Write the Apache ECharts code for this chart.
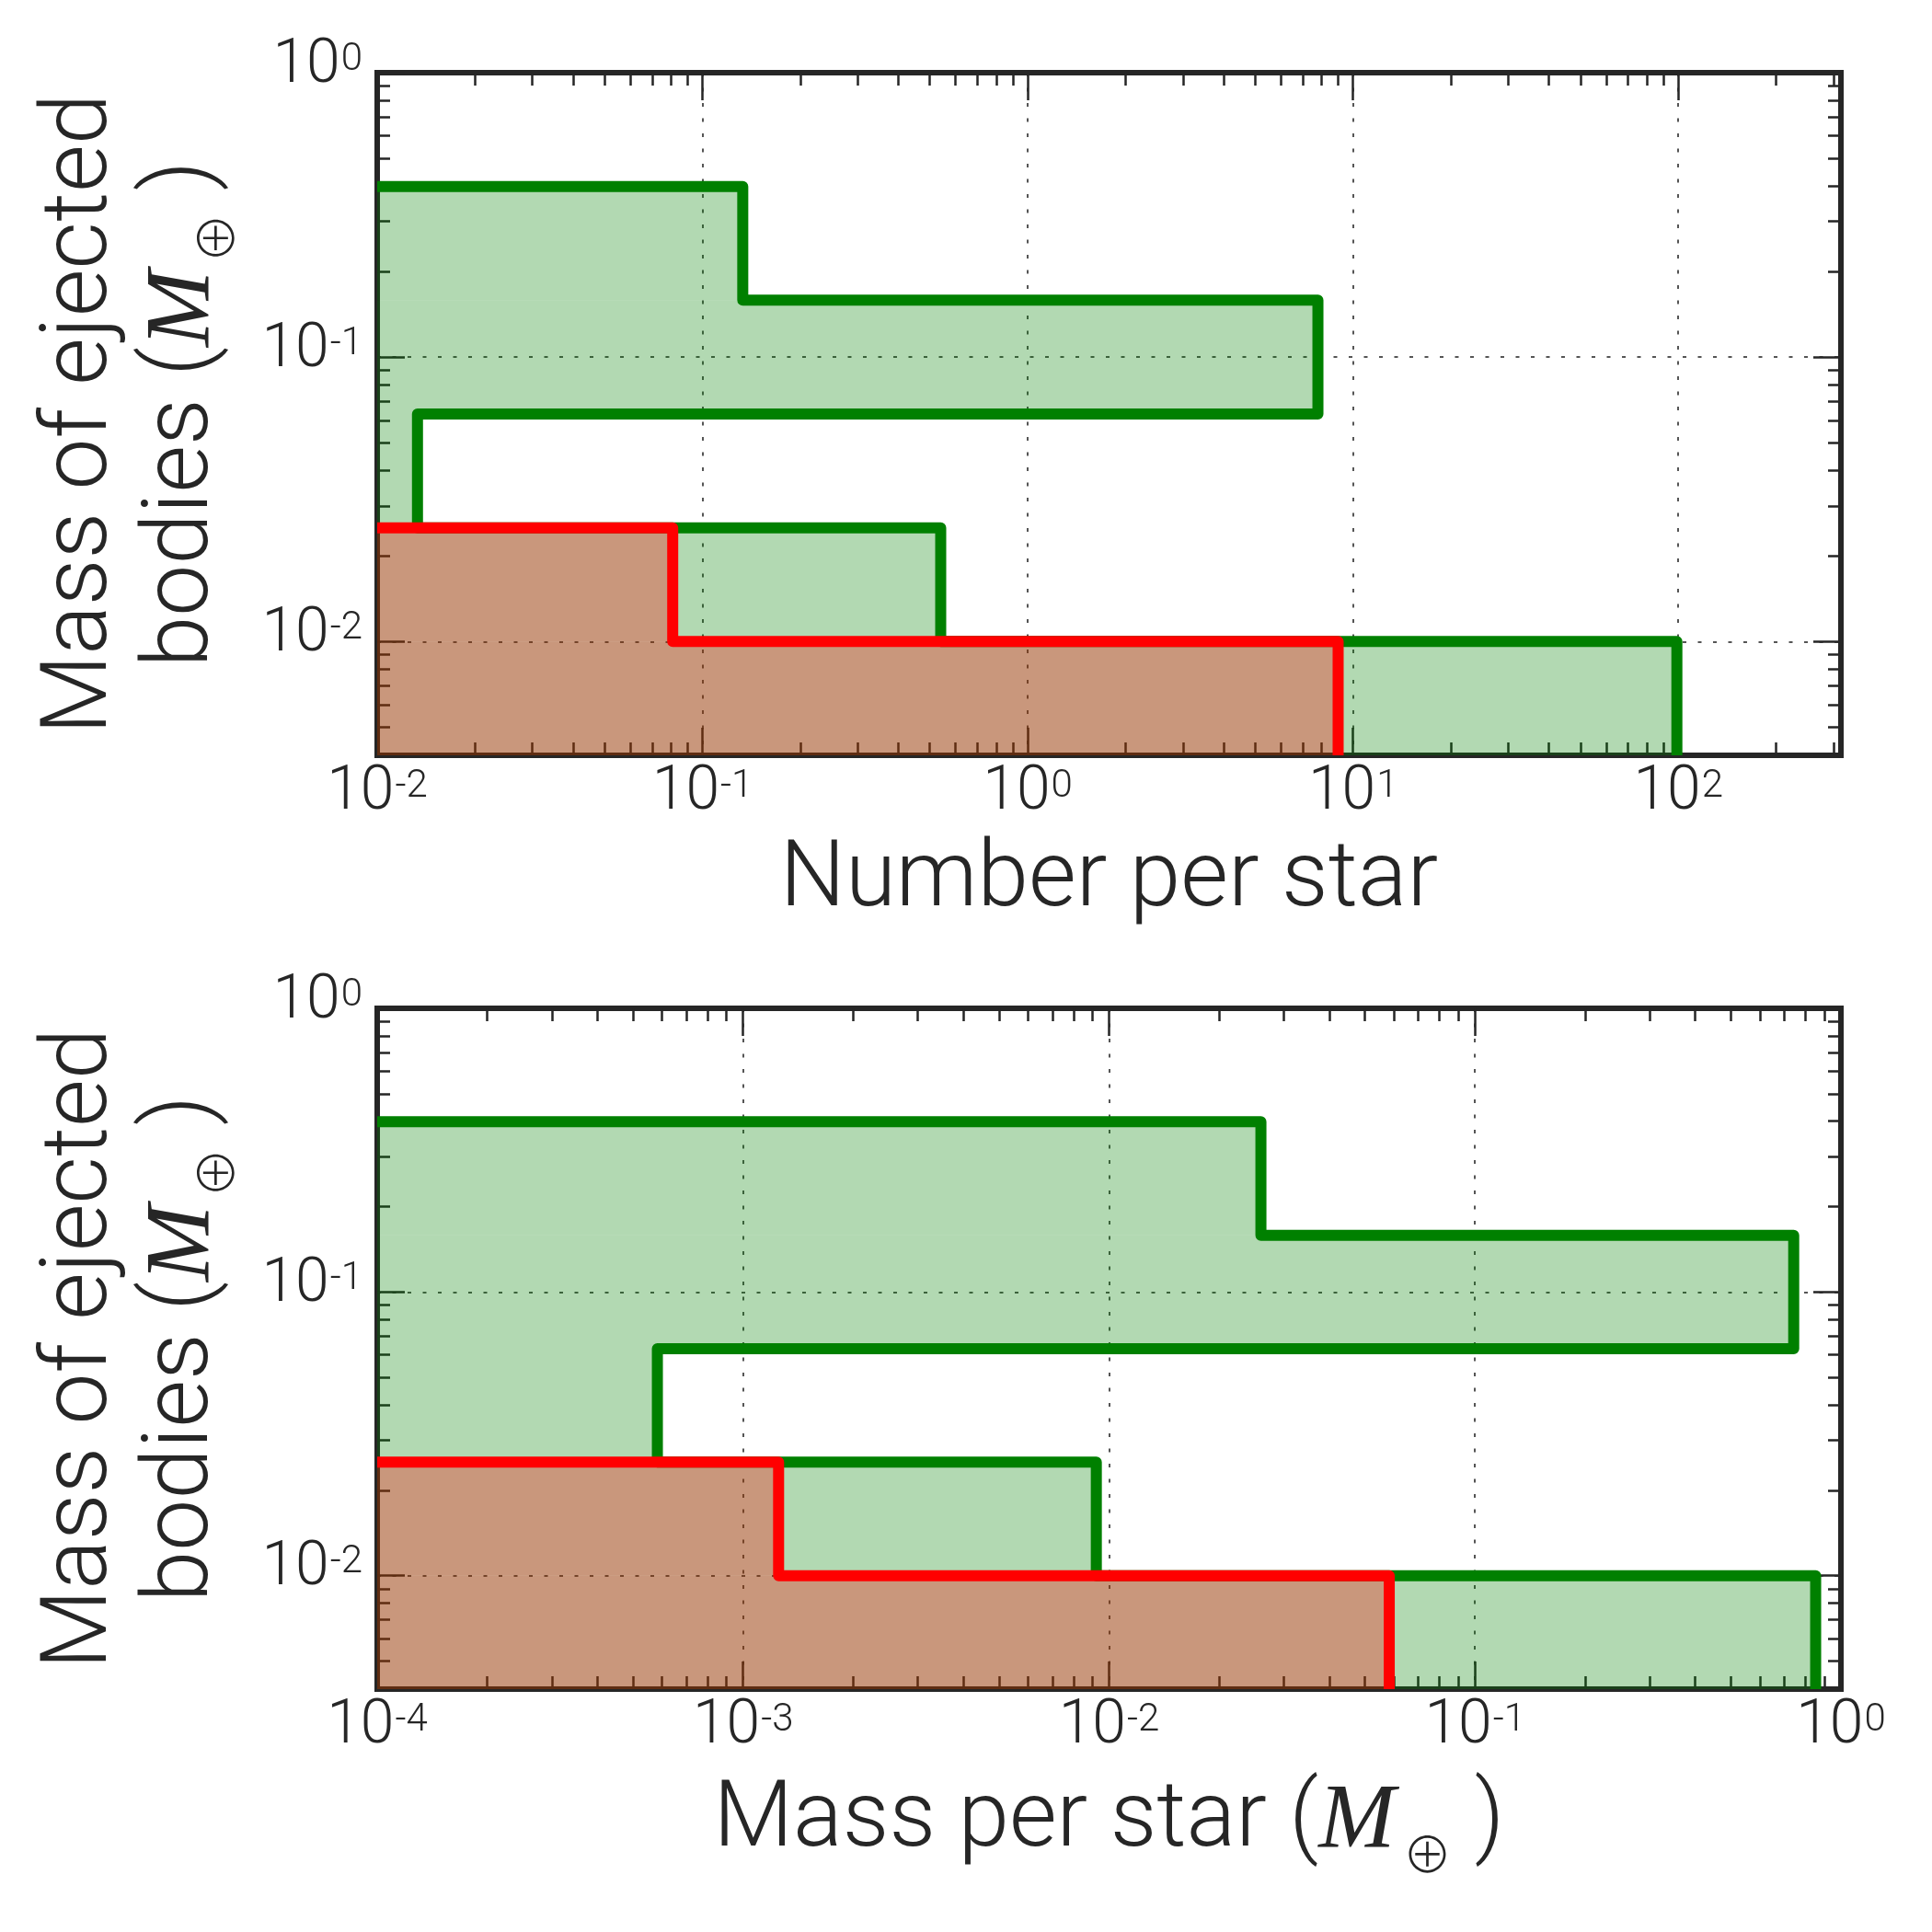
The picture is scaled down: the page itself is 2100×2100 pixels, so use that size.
<!DOCTYPE html>
<html lang="en">
<head>
<meta charset="UTF-8">
<title></title>
<script src="https://cdn.jsdelivr.net/npm/echarts@6/dist/echarts.min.js"></script>
<style>
  html,body{margin:0;padding:0;background:#fff}
  #chart{width:2100px;height:2100px}
</style>
</head>
<body>
<div id="chart"></div>
<script>
// mass bins of the ejected bodies (Earth masses), bottom edge ... top edge
var massEdges=[0.003981,0.01,0.02512,0.0631,0.1585,0.3981];
// number per star, one value per mass bin
var numGreen=[99,0.54,0.0133,7.8,0.133];
var numRed=[9.0,0.081,0,0,0];
// mass per star, one value per mass bin
var massGreen=[0.853,0.00923,0.000583,0.743,0.026];
var massRed=[0.0583,0.00125,0,0,0];

// axis ranges
var numRange=[0.01,316.2];
var massRange=[0.0001,1];
var yRange=[0.003981,1];

var SANS='Roboto';
var W=300;
var TXT='#262626';

/*
 * minor ticks 2..9 x 10^n inside a range
 */
function minorTicks(lo,hi){
	var out=[];
	for(var e=Math.floor(Math.log10(lo));e<=Math.ceil(Math.log10(hi));e++){
		for(var m=2;m<10;m++){
			var v=+(m*Math.pow(10,e)).toPrecision(4);
			if(v>lo && v<hi) out.push(v);
		}
	}
	return out;
}
function powLabel(v){
	var e=Math.log10(v),r=Math.round(e);
	if(Math.abs(e-r)>1e-6) return '';
	return '{b|10}{s|'+r+'}';
}
var tickRich={
	b:{fontFamily:SANS,fontWeight:W,fontSize:66,lineHeight:70,verticalAlign:'top',color:TXT},
	s:{fontFamily:SANS,fontWeight:W,fontSize:42,verticalAlign:'top',padding:[5,0,0,1],color:TXT}
};
// M (italic) with a big subscript earth sign pushed below the baseline
var nameRich={
	t:{fontFamily:SANS,fontWeight:W,fontSize:100,lineHeight:110,color:TXT},
	m:{fontFamily:'Liberation Serif',fontStyle:'italic',fontWeight:'normal',fontSize:100,lineHeight:110,color:TXT},
	o:{fontFamily:'Noto Sans CJK JP',fontWeight:300,fontSize:54,lineHeight:40,verticalAlign:'top',padding:[62,0,0,8],color:TXT}
};
var frameLine={show:true,onZero:false,lineStyle:{color:TXT,width:6,cap:'square'}};
var tickLine={color:TXT,width:2.5};
var gridLine={color:'#555',width:2,type:[4,12.5]};

/*
 * four axes for one side pair: main, mirrored, main minor, mirrored minor
 */
function makeAxes(g,range,posA,posB,extra){
	var minors=minorTicks(range[0],range[1]);
	var main={gridIndex:g,type:'log',position:posA,min:range[0],max:range[1],
		axisLine:frameLine,
		axisTick:{show:true,inside:true,length:30,lineStyle:tickLine},
		axisLabel:{show:true,interval:0,showMinLabel:true,showMaxLabel:true,formatter:powLabel,rich:tickRich},
		splitLine:{show:true,lineStyle:gridLine}};
	for(var k in extra) main[k]=extra[k];
	var mirror={gridIndex:g,type:'log',position:posB,min:range[0],max:range[1],
		axisLine:frameLine,
		axisTick:{show:true,inside:true,length:30,lineStyle:tickLine},
		axisLabel:{show:false},splitLine:{show:false}};
	var minorA={gridIndex:g,type:'log',position:posA,min:range[0],max:range[1],
		axisLine:{show:false},
		axisTick:{show:true,inside:true,length:14,lineStyle:tickLine,customValues:minors},
		axisLabel:{show:false},splitLine:{show:false}};
	var minorB={gridIndex:g,type:'log',position:posB,min:range[0],max:range[1],
		axisLine:{show:false},
		axisTick:{show:true,inside:true,length:14,lineStyle:tickLine,customValues:minors},
		axisLabel:{show:false},splitLine:{show:false}};
	return [main,mirror,minorA,minorB];
}

/*
 * step outline and filled bins of one histogram
 */
function outline(vals,xmin){
	var n=vals.length;
	while(n>0 && !(vals[n-1]>0)) n--;
	var pts=[];
	for(var i=0;i<n;i++){
		var v=vals[i]>0?vals[i]:xmin;
		pts.push([v,massEdges[i]]);
		pts.push([v,massEdges[i+1]]);
	}
	pts.push([xmin,massEdges[n]]);
	return pts;
}
function fillBins(vals){
	var d=[];
	for(var i=0;i<vals.length;i++){
		if(vals[i]>0) d.push([vals[i],massEdges[i],massEdges[i+1]]);
	}
	return d;
}
function fillRender(color){
	return function(params,api){
		var cs=params.coordSys;
		var top=api.coord([api.value(0),api.value(2)]);
		var bot=api.coord([api.value(0),api.value(1)]);
		return {type:'rect',shape:{x:cs.x,y:top[1],width:top[0]-cs.x,height:bot[1]-top[1]},
			style:{fill:color}};
	};
}
function histSeries(g,vals,xmin,fill,edge,z){
	return [
		{type:'custom',xAxisIndex:g*4,yAxisIndex:g*4,z:z,clip:true,silent:true,
			renderItem:fillRender(fill),encode:{x:0,y:[1,2]},data:fillBins(vals)},
		{type:'line',xAxisIndex:g*4,yAxisIndex:g*4,z:z+1,clip:true,silent:true,
			showSymbol:false,symbol:'none',animation:false,
			lineStyle:{color:edge,width:12,join:'round',cap:'butt'},
			data:outline(vals,xmin)}
	];
}

var yName='{t|Mass of ejected}\n{t|bodies (}{m|M}{o|⊕}{t| )}';
var yExtra={name:yName,nameLocation:'middle',nameGap:155,nameRotate:90,
	nameTextStyle:{rich:nameRich},axisLabel:{show:true,interval:0,showMinLabel:true,showMaxLabel:true,
	formatter:powLabel,rich:tickRich,margin:16,padding:[0,0,10,0]}};

var xAxisList=[].concat(
	makeAxes(0,numRange,'bottom','top',{name:'{t|Number per star}',nameLocation:'middle',nameGap:83,nameTextStyle:{rich:nameRich}}),
	makeAxes(1,massRange,'bottom','top',{name:'{t|Mass per star (}{m|M}{o|⊕}{t| )}',nameLocation:'middle',nameGap:90,nameTextStyle:{rich:nameRich}})
);
xAxisList.forEach(function(a){ if(a.axisLabel && a.axisLabel.show) a.axisLabel.margin=8; });
var yAxisList=[].concat(
	makeAxes(0,yRange,'left','right',yExtra),
	makeAxes(1,yRange,'left','right',yExtra)
);

var myChart=echarts.init(document.getElementById('chart'),null,{renderer:'canvas'});
var option={
	animation:false,
	backgroundColor:'#ffffff',
	grid:[
		{left:410,top:79,width:1591,height:742},
		{left:410,top:1096,width:1591,height:740}
	],
	xAxis:xAxisList,
	yAxis:yAxisList,
	series:[].concat(
		histSeries(0,numGreen,numRange[0],'rgba(0,128,0,0.3)','#008000',2),
		histSeries(0,numRed,numRange[0],'rgba(255,0,0,0.3)','#ff0000',4),
		histSeries(1,massGreen,massRange[0],'rgba(0,128,0,0.3)','#008000',2),
		histSeries(1,massRed,massRange[0],'rgba(255,0,0,0.3)','#ff0000',4)
	)
};
myChart.setOption(option);
</script>
</body>
</html>
